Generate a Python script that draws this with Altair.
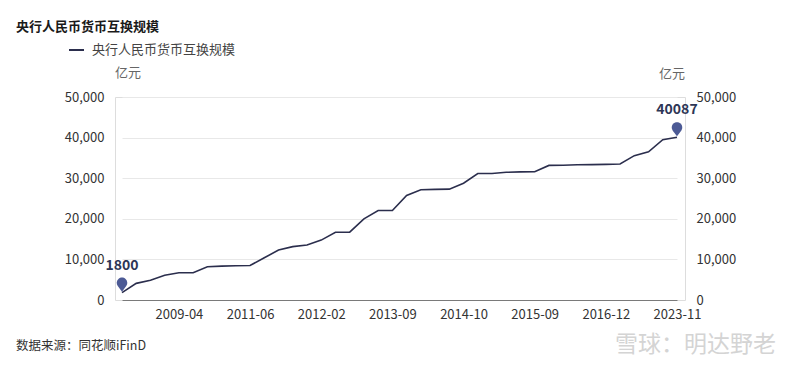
import altair as alt
import pandas as pd

dates = ["2008-12", "2009-01", "2009-02", "2009-03", "2009-04",
         "2010-06", "2010-07", "2011-04", "2011-05", "2011-06",
         "2011-10", "2011-11", "2011-12", "2012-01", "2012-02",
         "2012-03", "2012-06", "2013-03", "2013-06", "2013-09",
         "2013-10", "2014-04", "2014-07", "2014-09", "2014-10",
         "2014-11", "2014-12", "2015-04", "2015-05", "2015-09",
         "2015-10", "2015-12", "2016-05", "2016-09", "2016-12",
         "2017-07", "2018-10", "2020-12", "2022-12", "2023-11"]
values = [1800, 4100, 4850, 6100, 6700,
          6700, 8180, 8350, 8450, 8500,
          10400, 12300, 13150, 13550, 14750,
          16700, 16700, 20000, 22050, 22050,
          25750, 27150, 27250, 27300, 28750,
          31150, 31150, 31450, 31550, 31600,
          33150, 33200, 33300, 33350, 33400,
          33500, 35550, 36500, 39500, 40087]
tick_dates = ["2009-04", "2011-06", "2012-02", "2013-09", "2014-10",
              "2015-09", "2016-12", "2023-11"]
y_ticks = [0, 10000, 20000, 30000, 40000, 50000]
title_text = "央行人民币货币互换规模"
unit_text = "亿元"
source_text = "数据来源：同花顺iFinD"
watermark_text = "雪球：明达野老"

FONT = "Noto Sans CJK SC"
LINE_COLOR = "#2b2e4d"
PIN_COLOR = "#4c5a95"

df = pd.DataFrame({"date": dates, "value": values})
ends = df.iloc[[0, len(df) - 1]]

W, H = 570, 203

xscale = alt.Scale(type="point", domain=dates, range=[7, 562], padding=0)
yscale = alt.Scale(domain=[0, 50000])

X = alt.X("date:O", scale=xscale, sort=dates,
          axis=alt.Axis(values=tick_dates, title=None, labelAngle=0, ticks=False,
                        domain=True, domainColor="#7a7a7a", domainWidth=1.2, labelColor="#333",
                        labelFontSize=13, labelFont=FONT, labelPadding=8, grid=False))
Y_left = alt.Y("value:Q", scale=yscale,
               axis=alt.Axis(title=None, format=",.0f", values=y_ticks,
                             domain=False, domainOpacity=0, ticks=False, labelColor="#333",
                             labelFontSize=13, labelFont=FONT, labelPadding=11,
                             grid=True, gridColor="#e8e8e8"))
Y_plain = alt.Y("value:Q", scale=yscale)

line = alt.Chart(df).mark_line(color=LINE_COLOR, strokeWidth=1.6).encode(x=X, y=Y_left)

pin_path = "M0,1 L-0.6,0.2 A0.75,0.75 0 1 1 0.6,0.2 Z"
pins = alt.Chart(ends).mark_point(shape=pin_path, filled=True, color=PIN_COLOR,
                                  size=200, opacity=1, yOffset=-8).encode(
    x=alt.X("date:O", sort=dates), y=Y_plain)
pin_labels = alt.Chart(ends).mark_text(font=FONT, fontSize=14, fontWeight="bold",
                                       color="#2d3656", dy=-27).encode(
    x=alt.X("date:O", sort=dates), y=Y_plain, text="value:Q")


def label(text, x, y, size=13, color="#333", weight="normal", align="left", opacity=1.0):
    return alt.Chart(pd.DataFrame({"t": [text]})).mark_text(
        font=FONT, fontSize=size, color=color, fontWeight=weight, align=align,
        baseline="middle", opacity=opacity
    ).encode(x=alt.value(x), y=alt.value(y), text="t:N")


title = label(title_text, -99, -70, size=13, color="#1a1a1a", weight="bold")
legend_line = alt.Chart(pd.DataFrame({"a": [0]})).mark_rule(
    color=LINE_COLOR, strokeWidth=2).encode(
    x=alt.value(-46), x2=alt.value(-31), y=alt.value(-47))
legend_text = label(title_text, -23, -47, size=13, color="#444")
unit_left = label(unit_text, 13, -24, size=13, color="#666", align="center")
unit_right = label(unit_text, 557, -23, size=13, color="#666", align="center")
source = label(source_text, -99, 249, size=12.5, color="#333")
watermark = label(watermark_text, 500, 248, size=23, color="#aaa", opacity=0.5)

main = alt.layer(line, pins, pin_labels, title, legend_line, legend_text,
                 unit_left, unit_right, source, watermark)

right_axis = alt.Chart(df).mark_line(opacity=0).encode(
    x=alt.X("date:O", sort=dates),
    y=alt.Y("value:Q", scale=alt.Scale(domain=[0, 50000]),
            axis=alt.Axis(orient="right", title=None, format=",.0f", values=y_ticks,
                          domain=False, domainOpacity=0, ticks=False, grid=False,
                          labelColor="#333", labelFontSize=13, labelFont=FONT,
                          labelPadding=11)))

chart = alt.layer(main, right_axis).resolve_scale(y="independent").properties(
    width=W, height=H,
    autosize=alt.AutoSizeParams(type="none"),
    padding={"left": 107, "top": 89, "right": 107, "bottom": 62},
).configure_view(stroke="white", strokeWidth=0, strokeOpacity=0).configure_axisY(
    domain=False, ticks=False).configure(background="white")

chart.save("out.html", embed_options={"renderer": "svg", "actions": False})
